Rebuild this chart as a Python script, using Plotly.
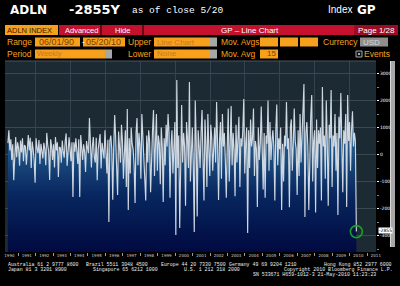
import plotly.graph_objects as go
import pandas as pd

# ---------------- data ----------------
ticker = "ADLN"
last_value_text = "-2855Y"
start_date = "1990-06-01"
end_date = "2010-05-20"

values_1990_1994 = [
    420, 900, 150, 560, -200, 380, -950, 300, 650, -100, 450, 220, -420, 520, 80, 600, -250, 350,
    300, -380, 500, 720, 150, 620, -500, 480, 200, -200, -1050, 600, 250, 50, 540, -350, 400, 100,
    -150, 430, 200, -400, 800, 350, 120, -940, 560, 300, -200, 380, -480, 650, 150, 450, -830, 280,
    250, -300, 520, 100, -120, 480, 780, -420, 300, 640, 200, -250, 450, -1570, 450, 100, 600, -150,
    -350, 560, -1570, 720, 300, -200, 380, 100, -650, 500, 250, 50, 1350, 400, -480, 300, 650, -100,
]
values_1995_1999 = [
    -300, 620, -950, 200, 450, 760, -520, 430, 150, -150, 900, 300, -700, 550, -2500, 500, 700, 200,
    -1680, 250, 1460, 600, -600, -1500, 850, 300, -300, 1100, 500, -900, 400, 900, -1200, 1685, -2055, 600,
    -700, 1000, 400, 200, -400, -1800, 800, 1350, -400, 800, 300, -900, 1500, 600, 300, -900, -1700, 700,
    -300, 900, 500, -1400, 200, 900, 1650, -800, 400, 1500, -600, 700, 400, -1100, 1000, 300, -1760, 600,
    -400, 1100, 300, 1500, 800, -1600, 300, 900, -700, 500, 1200, -2980, 2760, -500, 700, -2720, 400, 1830,
]
values_2000_2004 = [
    -300, 800, 300, -1900, 1200, 600, -500, 2685, -1000, 600, 1000, -400, -2870, 2000, 500, -2300, 900, 300,
    -500, 800, 1650, -200, -1700, 1300, 400, -1200, 1500, 200, -800, 1100, 600, -600, 700, 1000, -300, 1944,
    400, -1685, 500, 1200, -900, 1500, 300, 800, -200, -1600, 300, 1700, -1000, 600, 1800, -400, 800, 200,
    -1550, 1100, -300, 600, 1400, -1200, 600, 300, 900, 2055, -700, 400, 1000, -2907, 900, -500, 1300, 300,
    600, 1700, -800, 500, 200, -1944, 1000, -200, 400, 1780, 300, -1300, 800, -1600, 700, 400, 2000, -600,
]
values_2005_2010 = [
    1200, -200, 500, 900, 300, -1700, 900, 1850, -400, 600, 200, 1000, -2055, 400, -1000, 700, 300, 1944,
    200, 600, -1950, 1000, 1300, -600, 400, 1700, 500, 200, -1500, 900, -800, 1500, -300, 700, 1000, 2611,
    -2315, 800, 1200, 300, -2055, 600, 1400, 2200, -1000, 500, 900, -2150, 1300, -500, 900, 400, 1000, -1700,
    2500, 300, 700, -900, 2000, 500, -1900, 1100, 600, 2389, -1200, 700, 300, 1500, -600, 800, -2240, 1400,
    600, 2278, -300, -1400, 900, 400, 1500, -1944, 2204, 500, 1200, -600, 900, 1600, 300, 800, 500, -2855,
]
y_ticks = [-3000, -2000, -1000, 0, 1000, 2000, 3000]
years = list(range(1990, 2012))
footer_line1 = [("Australia 61 2 9777 8600", 7), ("Brazil 5511 3048 4500", 85),
                ("Europe 44 20 7330 7500", 160), ("Germany 49 69 9204 1210", 228),
                ("Hong Kong 852 2977 6000", 323)]
footer_line2 = [("Japan 81 3 3201 8900", 7), ("Singapore 65 6212 1000", 92),
                ("U.S. 1 212 318 2000", 183), ("Copyright 2010 Bloomberg Finance L.P.", 283)]
footer_line3 = [("SN 533671 H659-1012-3 21-May-2010 11:23:23", 252)]

values = values_1990_1994 + values_1995_1999 + values_2000_2004 + values_2005_2010
dates = pd.date_range(start_date, end_date, periods=len(values))

# ---------------- layout geometry ----------------
W, H = 400, 286
ML, MR, MT, MB = 5, 24, 61, 34
PW, PH = W - ML - MR, H - MT - MB
Y_MIN, Y_MAX = -3611, 3463
X_RANGE = ["1990-04-01", "2011-07-05"]


def px(x):
    return (x - ML) / PW


def py(y):
    return (H - MB - y) / PH


ORANGE = "#f6a01c"
RED = "#c3112e"
DARKRED = "#9c0c22"
GREY = "#a6a6a6"

fig = go.Figure()

# baseline for mountain fill
fig.add_trace(go.Scatter(x=dates, y=[Y_MIN] * len(values), mode="lines",
                         line=dict(width=0, color="rgba(0,0,0,0)"),
                         hoverinfo="skip", showlegend=False))
fig.add_trace(go.Scatter(
    x=dates, y=values, mode="lines",
    line=dict(color="#cfd7e1", width=1.15),
    fill="tonexty",
    fillgradient=dict(type="vertical", start=Y_MIN, stop=1000,
                      colorscale=[[0, "#000a40"], [0.46, "#08265f"],
                                  [0.78, "#1c5082"], [1, "#2c6696"]]),
    showlegend=False, hoverinfo="skip"))
# highlight last point
fig.add_trace(go.Scatter(x=[dates[-1]], y=[values[-1]], mode="markers",
                         marker=dict(symbol="circle-open", size=12, color="#1c9e2a",
                                     line=dict(width=1.6, color="#1c9e2a")),
                         showlegend=False, hoverinfo="skip"))
# helper trace for the 2-year vertical grid axis
fig.add_trace(go.Scatter(x=[dates[0]], y=[0], xaxis="x2", mode="markers",
                         marker=dict(opacity=0), showlegend=False, hoverinfo="skip"))

shapes = []
ann = []


def rect(x0, x1, y0, y1, color, line=None):
    shapes.append(dict(type="rect", xref="paper", yref="paper",
                       x0=px(x0), x1=px(x1), y0=py(y1), y1=py(y0),
                       fillcolor=color, line=dict(width=0) if line is None else line,
                       layer="above"))


def text(t, x, y, size=8, color="white", family="Liberation Sans", bold=False, anchor="left"):
    ann.append(dict(text=t, xref="paper", yref="paper", x=px(x), y=py(y),
                    xanchor=anchor, yanchor="middle", showarrow=False, borderpad=0,
                    font=dict(size=size, color=color, family=family,
                              weight="bold" if bold else "normal")))


# Row 1
text(ticker, 9, 9.5, size=12, bold=True, family="DejaVu Sans")
text(last_value_text, 68, 9.5, size=13, bold=True, family="DejaVu Sans")
text("as of close 5/20", 131, 10, size=9.5, family="Liberation Mono")
text("Index", 327, 9.5, size=10, family="Liberation Sans")
text("GP", 356, 9.5, size=12, bold=True, family="DejaVu Sans")

# Row 2
rect(5, 58, 25, 35, ORANGE)
text("ADLN INDEX", 6, 30.2, size=7.5, color="#3a1a00")
rect(59, 398, 25, 35, RED)
rect(100, 102, 25, 35, "#6a0714")
rect(142, 144, 25, 35, "#6a0714")
rect(354, 398, 25, 35, DARKRED)
text("Advanced", 64, 30.2, size=7.5)
text("Hide", 114, 30.2, size=7.5)
text("GP \u2013 Line Chart", 220, 30.2, size=8)
text("Page 1/28", 357, 30.2, size=8)

# Row 3
text("Range", 6, 42, size=8.5, color=ORANGE)
rect(35, 80, 37.5, 46.5, ORANGE)
text("06/01/90", 38, 42, size=9, color="#7a3e00")
text("-", 80.5, 42, size=8.5, color="white")
rect(83, 125, 37.5, 46.5, ORANGE)
text("05/20/10", 85, 42, size=9, color="#7a3e00")
text("Upper", 127, 42, size=8.5, color=ORANGE)
rect(154, 210, 37.5, 46.5, ORANGE)
rect(210, 217, 37.5, 46.5, GREY)
text("Line Chart", 156, 42, size=8, color="#c77a20")
text("Mov. Avgs", 220, 42, size=8.5, color=ORANGE)
for a in (260, 280, 300):
    rect(a, a + 18, 37.5, 46.5, ORANGE)
text("Currency", 322, 42, size=8.5, color=ORANGE)
rect(360, 388, 37.5, 46.5, "#8e8e8e")
text("USD", 362, 42, size=8, color="#d8d8d8")

# Row 4
text("Period", 6, 54, size=8.5, color=ORANGE)
rect(35, 105, 49.5, 58.5, ORANGE)
rect(105, 112, 49.5, 58.5, GREY)
text("Weekly", 36, 54, size=7.5, color="#c77a20")
text("Lower", 127, 54, size=8.5, color=ORANGE)
rect(154, 210, 49.5, 58.5, ORANGE)
rect(210, 217, 49.5, 58.5, GREY)
text("None", 156, 54, size=8, color="#c77a20")
text("Mov. Avg", 220, 54, size=8.5, color=ORANGE)
rect(260, 278, 49.5, 58.5, ORANGE)
text("15", 266, 54, size=8, color="#7a3e00")
rect(356, 362, 51, 57, "#111111", line=dict(width=1, color=GREY))
rect(358, 360, 53, 55, GREY)
text("Events", 363, 54, size=8.5, color=ORANGE)

# plot frame top line + scrollbar
shapes.append(dict(type="line", xref="paper", yref="paper", x0=0, x1=1, y0=1, y1=1,
                   line=dict(color="#4a5560", width=1), layer="above"))
rect(390, 395, 61, 247, "#a8a8a8")
rect(390, 391, 61, 247, "#d8d8d8")

# highlighted last value label
ann.append(dict(text="-2855", xref="paper", yref="y", x=1, y=values[-1], xanchor="left",
                xshift=2, yshift=1, yanchor="middle", showarrow=False, bgcolor="white",
                borderpad=0, font=dict(size=4.5, color="black", family="DejaVu Sans")))

# Footer
for line, yy in ((footer_line1, 264.5), (footer_line2, 269.5), (footer_line3, 274.5)):
    for t, xx in line:
        text(t, xx, yy, size=4.9, color="#eeeeee", family="Liberation Mono")

fig.update_layout(
    width=W, height=H, margin=dict(l=ML, r=MR, t=MT, b=MB, pad=0),
    paper_bgcolor="black", plot_bgcolor="#1b2a33",
    shapes=shapes, annotations=ann, showlegend=False,
    xaxis=dict(type="date", range=X_RANGE, showgrid=False, zeroline=False,
               tickvals=[f"{y}-07-02" for y in years], ticktext=[str(y) for y in years],
               ticks="", tickfont=dict(size=4, color="#d0d0d0", family="DejaVu Sans"),
               minor=dict(dtick="M12", tick0="1990-01-01", ticks="outside", ticklen=3,
                          tickcolor="#9a9a9a", showgrid=False),
               showline=False),
    xaxis2=dict(type="date", overlaying="x", matches="x", range=X_RANGE,
                tick0="1992-01-01", dtick="M24", showgrid=True, gridcolor="#34444e",
                gridwidth=1, showticklabels=False, ticks="", zeroline=False),
    yaxis=dict(side="right", range=[Y_MIN, Y_MAX], tickvals=y_ticks,
               ticktext=[str(v) for v in y_ticks], ticks="outside", ticklen=2,
               tickcolor="white", tickfont=dict(size=4.5, color="white", family="DejaVu Sans"),
               showgrid=True, gridcolor="#3a4850", gridwidth=1, zeroline=False,
               minor=dict(dtick=500, tick0=0, ticks="outside", ticklen=2,
                          tickcolor="#8a8a8a", showgrid=False)),
)

fig.write_html("out.html")
